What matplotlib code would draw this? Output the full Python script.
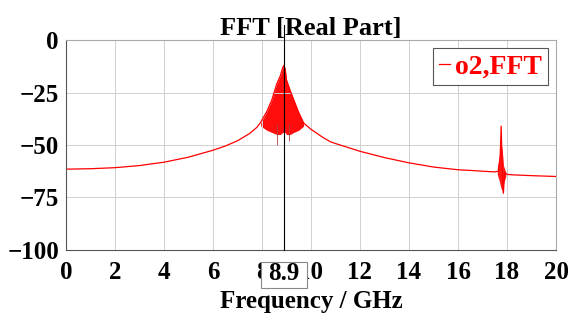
import matplotlib
matplotlib.use("Agg")
import matplotlib.pyplot as plt
from matplotlib.patches import Rectangle

# smooth part of the FFT curve (GHz, dB)
freq = [0, 1, 2, 3, 4, 5, 6, 6.5, 7, 7.5, 7.8, 7.93, 8.2, 8.4, 8.6, 8.75, 8.85, 8.9,
        8.95, 9.0, 9.15, 9.3, 9.5, 9.7, 10, 10.5, 10.8, 11, 12, 13, 14, 15, 16, 16.5, 17,
        17.5, 17.65, 17.72, 17.76, 17.8, 17.85, 17.9, 18.0, 18.2, 19, 20]
fft = [-61.5, -61.3, -60.8, -59.8, -58.2, -55.8, -52.5, -50.5, -48, -44.5, -41.5, -39.5,
       -34, -28.6, -21, -17, -13, -12,
       -14, -19, -24, -28.6, -34.5, -39.5, -42.5, -46.5, -48.5, -49.3, -53, -56, -58.5,
       -60.5, -61.8, -62.1, -62.5,
       -62.8, -62.5, -55, -41, -60, -73, -63, -64, -64.2, -64.6, -65]

# dense ringing around the main peak (upper / lower envelope)
ring_f = [7.95, 8.2, 8.4, 8.6, 8.75, 8.85, 8.9, 8.95, 9.0, 9.15, 9.3, 9.5, 9.7]
ring_hi = [-39.5, -34, -28.6, -21, -17, -13, -12, -14, -19, -24, -28.6, -34.5, -39.5]
ring_lo = [-41, -43, -44, -45, -45, -44, -44, -44, -45, -45, -44, -43, -41]

# spikes dipping below the ringing
spike_f = [8.6, 9.12]
spike_lo = [-50, -48]

# ringing near 18 GHz
ring2_f = [17.6, 17.68, 17.74, 17.8, 17.86, 17.95]
ring2_hi = [-61, -56, -48, -52, -60, -63]
ring2_lo = [-64, -67, -70, -72, -68, -65]

marker_f = 8.9

plt.rcParams["font.family"] = ["Liberation Serif", "DejaVu Serif"]
plt.rcParams["font.weight"] = "bold"

fig = plt.figure(figsize=(5.68, 3.18), dpi=100)
ax = fig.add_axes([0.116, 0.214, 0.863, 0.66])

ax.plot(freq, fft, color="red", lw=0.9, label="o2,FFT")
ax.fill_between(ring_f, ring_lo, ring_hi, color="red", lw=0, alpha=0.95)
ax.fill_between(ring2_f, ring2_lo, ring2_hi, color="red", lw=0, alpha=0.9)
ax.vlines(spike_f, spike_lo, [-40, -40], color="#b04040", lw=0.6)

ax.plot([marker_f, marker_f], [0, 1.07], color="black", lw=0.8,
        transform=ax.get_xaxis_transform(), clip_on=False, zorder=5)

ax.set_xlim(0, 20)
ax.set_ylim(-100, 0)
ax.set_xticks(range(0, 21, 2))
ax.set_yticks([0, -25, -50, -75, -100])
ax.tick_params(labelsize=18, length=0)
ax.tick_params(axis="x", pad=8)
ax.tick_params(axis="y", pad=5)
for lab in ax.get_xticklabels() + ax.get_yticklabels():
    lab.set_fontweight("bold")
ax.grid(True, color="#d0d0d0", lw=0.7)
for s in ax.spines.values():
    s.set_color("#aaaaaa")
ax.spines["left"].set_color("#555555")
ax.spines["bottom"].set_color("#555555")

# boxed marker readout covering the tick labels underneath
box = Rectangle((marker_f - 0.94, -0.181), 1.88, 0.124, transform=ax.get_xaxis_transform(),
                fc="white", ec="#888888", lw=0.8, clip_on=False, zorder=6)
ax.add_patch(box)
ax.text(marker_f, -0.114, "8.9", transform=ax.get_xaxis_transform(), ha="center",
        va="center", fontsize=18, fontweight="bold", zorder=7, clip_on=False)

ax.set_title("FFT [Real Part]", fontsize=19, fontweight="bold", pad=4)
ax.set_xlabel("Frequency / GHz", fontsize=18, fontweight="bold", labelpad=4)

leg = ax.legend(loc="upper right", handlelength=0.4, handletextpad=0.2,
                fontsize=20, fancybox=False, framealpha=1, borderpad=0.2,
                borderaxespad=0.3, edgecolor="#555555", labelcolor="red")
leg.get_frame().set_linewidth(0.8)

fig.savefig("out.png", dpi=100)
